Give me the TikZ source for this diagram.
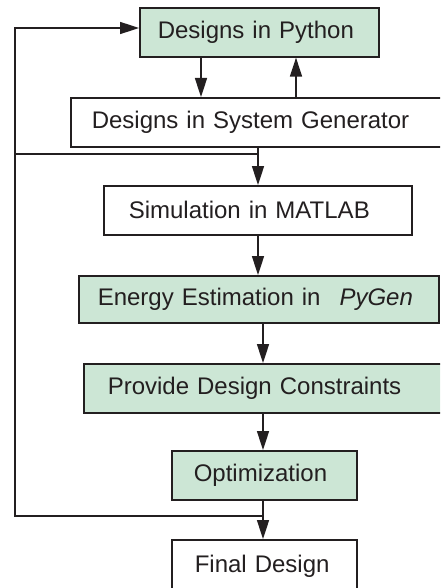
\documentclass[tikz,border=0pt]{standalone}
\usepackage{fontspec}
\setmainfont{Liberation Sans}
\usetikzlibrary{arrows.meta,calc}
\definecolor{boxgreen}{RGB}{204,230,213}
\definecolor{ink}{RGB}{35,31,32}
\begin{document}
\begin{tikzpicture}[x=1pt,y=-1pt,
  box/.style={draw=ink, line width=1.6pt, anchor=north west, inner xsep=0pt, inner ysep=0pt,
    align=left, text=ink, font=\fontsize{24}{28}\selectfont},
  gbox/.style={box, fill=boxgreen},
  wbox/.style={box, fill=white},
  conn/.style={draw=ink, line width=1.6pt},
  arr/.style={conn, -{Triangle[length=19pt,width=12pt]}}]
\useasboundingbox (0,0) rectangle (440,588);
\clip (0,0) rectangle (440,588);
% boxes
\node[gbox, text width=239pt, minimum height=49pt] (b1) at (139,7) {\mbox{\hspace*{18pt}Designs in Python}};
\node[wbox, text width=390pt, minimum height=49pt] (b2) at (70,97) {\mbox{\hspace*{21pt}Designs in System Generator}};
\node[wbox, text width=308pt, minimum height=49pt] (b3) at (103,185) {\mbox{\hspace*{25pt}Simulation in MATLAB}};
\node[gbox, text width=360pt, minimum height=47pt] (b4) at (78,275) {\mbox{\hspace*{19pt}Energy Estimation in\hspace{19pt}\textit{PyGen}}};
\node[gbox, text width=380pt, minimum height=49pt] (b5) at (83,363) {\mbox{\hspace*{24pt}Provide Design Constraints}};
\node[gbox, text width=185pt, minimum height=49pt] (b6) at (171,450) {\mbox{\hspace*{22pt}Optimization}};
\node[wbox, text width=185pt, minimum height=52pt] (b7) at (171,539) {\mbox{\hspace*{23pt}Final Design}};
% helper coordinates
\coordinate (xa) at (201,0);
\coordinate (xb) at (296,0);
\coordinate (xc) at (258,0);
\coordinate (xd) at (263,0);
\coordinate (L0) at (15,28);
\coordinate (J1) at (258,154);
\coordinate (L1) at (15,154);
\coordinate (J2) at (263,516);
\coordinate (L2) at (15,516);
% connectors
\draw[arr] (b1.south -| xa) -- (b2.north -| xa);
\draw[arr] (b2.north -| xb) -- (b1.south -| xb);
\draw[arr] (b2.south -| xc) -- (b3.north -| xc);
\draw[arr] (b3.south -| xc) -- (b4.north -| xc);
\draw[arr] (b4.south -| xd) -- (b5.north -| xd);
\draw[arr] (b5.south -| xd) -- (b6.north -| xd);
\draw[arr] (b6.south -| xd) -- (b7.north -| xd);
\draw[conn] (J1) -- (L1);
\draw[arr] (J2) -- (L2) -- (L0) -- (b1.west |- L0);
\end{tikzpicture}
\end{document}
